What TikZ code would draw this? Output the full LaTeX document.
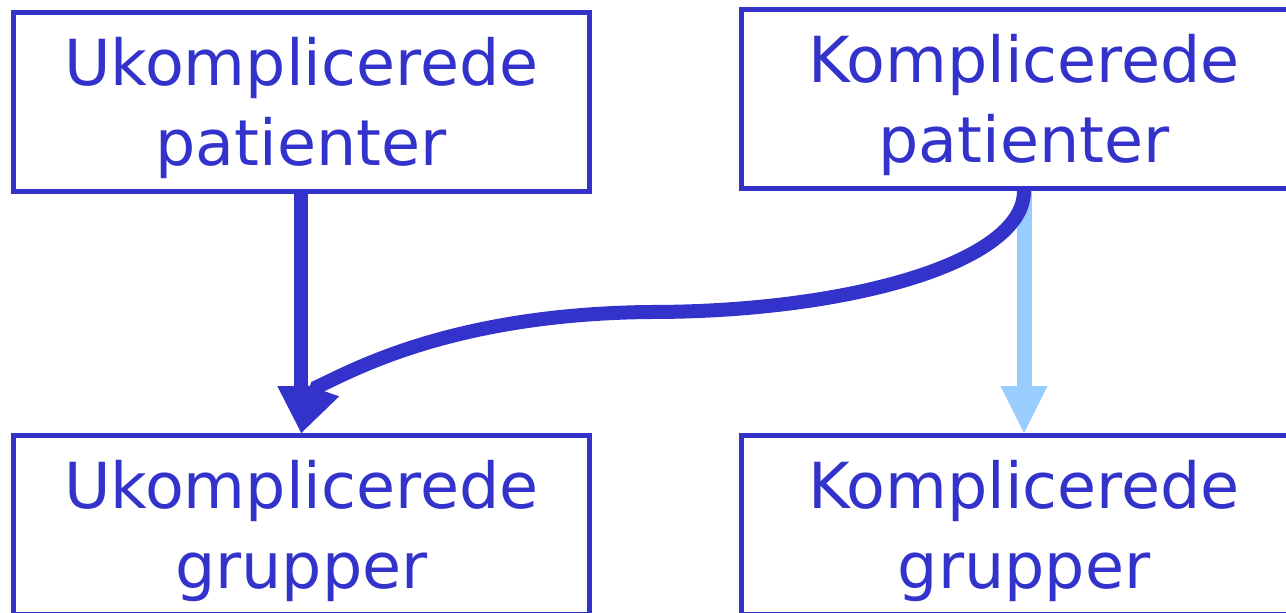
\documentclass[tikz,border=0pt]{standalone}
\usepackage{fontspec}
\setmainfont{DejaVu Sans}
\usetikzlibrary{arrows.meta}
\definecolor{dblue}{HTML}{3333CC}
\definecolor{lblue}{HTML}{99CCFF}
\tikzset{
  box/.style={draw=dblue, line width=5pt, minimum width=575.5pt, minimum height=179pt, inner sep=0pt},
  rbox/.style={box, minimum width=565pt},
  lbl/.style={text=dblue, font=\fontsize{63.5}{79.5}\selectfont, align=center, inner sep=0pt},
  darrow/.style={draw=dblue, line width=14pt, -{Triangle[width=48pt,length=47pt,line width=0pt]}},
  larrow/.style={draw=lblue, line width=15pt, -{Triangle[width=47pt,length=47pt,line width=0pt]}},
}
\begin{document}
\begin{tikzpicture}[x=1pt,y=-1pt]
\path[use as bounding box] (0,0) rectangle (1286,613);
\clip (0,0) rectangle (1286,613);
\node[box]  (tl) at (301.25,102) {};
\node[rbox] (tr) at (1024,99) {};
\node[box]  (bl) at (301.25,525) {};
\node[rbox] (br) at (1024,525) {};
\node[lbl] (tlt) at ([yshift=-6pt]tl.center) {Ukomplicerede\\patienter};
\node[lbl] (trt) at ([yshift=-6pt]tr.center) {Komplicerede\\patienter};
\node[lbl] (blt) at ([yshift=-6pt]bl.center) {Ukomplicerede\\grupper};
\node[lbl] (brt) at ([yshift=-6pt]br.center) {Komplicerede\\grupper};
\draw[darrow] (tl.south) -- (bl.north);
\draw[larrow] (tr.south) -- (br.north);
\coordinate (mid) at (650,312);
\coordinate (hb) at (317,387);
\draw[darrow] (tr.south) .. controls (1024,262) and (850,312) .. (mid)
  .. controls (450,314) and (350,372) .. (hb) -- (bl.north);
\end{tikzpicture}
\end{document}
